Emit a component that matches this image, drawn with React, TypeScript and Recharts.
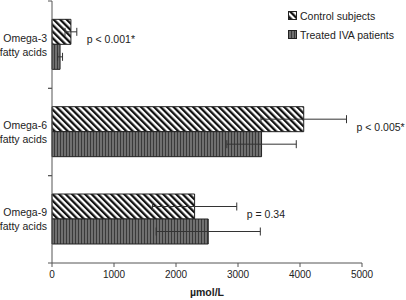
import React from 'react';
import { BarChart, Bar, XAxis, YAxis, ErrorBar, Legend, LabelList, Label } from 'recharts';

const categories = ['Omega-3', 'Omega-6', 'Omega-9'];
const controlValues = [305, 4060, 2300];
const controlErrors = [95, 690, 680];
const treatedValues = [130, 3380, 2520];
const treatedErrors = [40, 560, 840];
const pLabels = ['p < 0.001*', 'p < 0.005*', 'p = 0.34'];
const xTicks = [0, 1000, 2000, 3000, 4000, 5000];

const data = categories.map((c, i) => ({
  name: c,
  control: controlValues[i],
  controlErr: controlErrors[i],
  treated: treatedValues[i],
  treatedErr: treatedErrors[i],
  p: pLabels[i],
}));

const FONT = '"Liberation Sans", Arial, sans-serif';

const CategoryTick = (props: any) => {
  const { x, y, payload } = props;
  const off = payload && typeof payload.offset === 'number' ? payload.offset : 44;
  const ax = x + 5;
  return (
    <g>
      <line x1={ax - 4} x2={ax} y1={y - off} y2={y - off} stroke="#555" />
      <line x1={ax - 4} x2={ax} y1={y + off} y2={y + off} stroke="#555" />
      <text x={x} y={y} textAnchor="end" fontSize={10.5} fill="#222" fontFamily={FONT}>
        <tspan x={x} dy={-3}>{payload.value}</tspan>
        <tspan x={x} dy={14}>fatty acids</tspan>
      </text>
    </g>
  );
};

const PLabel = (props: any) => {
  const { x, y, width, height, index } = props;
  const d = data[index];
  const errPx = (width * d.controlErr) / d.control;
  return (
    <text x={x + width + errPx + 10} y={y + height - 1} fontSize={10.5} fill="#222" fontFamily={FONT}>
      {d.p}
    </text>
  );
};

const LegendContent = (props: any) => {
  const items = [
    { label: 'Control subjects', fill: 'url(#diagPat)' },
    { label: 'Treated IVA patients', fill: 'url(#vertPat)' },
  ];
  return (
    <div style={{ fontFamily: FONT, fontSize: 10.5, color: '#222' }}>
      {items.map((it) => (
        <div key={it.label} style={{ display: 'flex', alignItems: 'center', height: 19 }}>
          <svg width={9} height={9} style={{ marginRight: 3 }}>
            <rect x={0.5} y={0.5} width={8} height={8} fill={it.fill} stroke="#222" />
          </svg>
          <span>{it.label}</span>
        </div>
      ))}
    </div>
  );
};

export default function App() {
  return (
    <div style={{ position: 'absolute', left: 0, top: 0, width: 406, height: 300, background: '#fff' }}>
      <svg width={0} height={0} style={{ position: 'absolute' }}>
        <defs>
          <pattern id="diagPat" patternUnits="userSpaceOnUse" width={4.6} height={4.6} patternTransform="rotate(-45)">
            <rect width={4.6} height={4.6} fill="#fff" />
            <rect width={2.3} height={4.6} fill="#111" />
          </pattern>
          <pattern id="vertPat" patternUnits="userSpaceOnUse" width={3} height={3}>
            <rect width={3} height={3} fill="#707070" />
            <rect width={1} height={3} fill="#3a3a3a" />
          </pattern>
        </defs>
      </svg>
      <BarChart
        width={406}
        height={300}
        data={data}
        layout="vertical"
        margin={{ top: 1, right: 44, bottom: 0, left: 0 }}
        barCategoryGap="21%"
        barGap={0}
      >
        <XAxis
          type="number"
          domain={[0, 5000]}
          ticks={xTicks}
          height={37}
          tickSize={4}
          tickMargin={4}
          stroke="#555"
          tick={{ fontSize: 10, fill: '#222', fontFamily: FONT }}
          interval={0}
        >
          <Label value="µmol/L" position="insideBottom" offset={4} style={{ fontSize: 10.5, fontWeight: 'bold', fill: '#222', fontFamily: FONT }} />
        </XAxis>
        <YAxis
          type="category"
          dataKey="name"
          width={52}
          tickLine={false}
          tickSize={4}
          tickMargin={1}
          stroke="#555"
          tick={<CategoryTick />}
          interval={0}
        />
        <Legend
          layout="vertical"
          align="center"
          verticalAlign="middle"
          content={<LegendContent />}
          wrapperStyle={{ top: 6, left: 288, width: 'auto', height: 'auto' }}
        />
        <Bar dataKey="control" name="Control subjects" fill="url(#diagPat)" stroke="#222" strokeWidth={1} isAnimationActive={false}>
          <ErrorBar dataKey="controlErr" direction="x" width={4} stroke="#333" strokeWidth={1} />
          <LabelList dataKey="p" content={<PLabel />} />
        </Bar>
        <Bar dataKey="treated" name="Treated IVA patients" fill="url(#vertPat)" stroke="#222" strokeWidth={1} isAnimationActive={false}>
          <ErrorBar dataKey="treatedErr" direction="x" width={4} stroke="#333" strokeWidth={1} />
        </Bar>
      </BarChart>
    </div>
  );
}
